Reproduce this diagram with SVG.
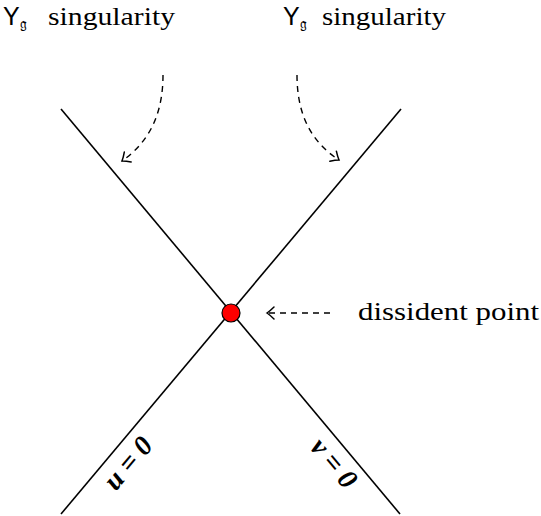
<svg xmlns="http://www.w3.org/2000/svg" width="541" height="516" viewBox="0 0 541 516">
<style>
.ln{stroke:#000;stroke-width:1.6;fill:none}
.dash{stroke:#000;stroke-width:1.4;fill:none;stroke-dasharray:6 5}
.sans{font-family:'Liberation Sans',Arial,sans-serif;fill:#000}
.serif{font-family:'Liberation Serif','Times New Roman',serif;font-size:26px;fill:#000}
.math{font-family:'Liberation Serif','Times New Roman',serif;font-size:28px;font-weight:bold;font-style:italic;fill:#000}
</style>
<defs>
<marker id="arr" markerUnits="userSpaceOnUse" markerWidth="20" markerHeight="20" viewBox="-12 -10 14 20" refX="0" refY="0" orient="auto">
<path d="M-7,-6 Q-3,-2 0,0 Q-3,2 -7,6" stroke="#000" stroke-width="1.5" fill="none" stroke-linecap="round"/>
</marker>
</defs>
<g id="lines">
<line id="line-u" class="ln" x1="61" y1="514" x2="401" y2="109"/>
<line id="line-v" class="ln" x1="61" y1="109" x2="400" y2="514"/>
</g>
<g id="connectors">
<path class="dash" d="M163,75 C163,110 152,140 122,161" marker-end="url(#arr)"/>
<path class="dash" d="M297,75 C297,110 308,140 339,160" marker-end="url(#arr)"/>
<path class="dash" d="M330,313 L267,313" marker-end="url(#arr)"/>
</g>
<g id="dissident-point">
<circle cx="231" cy="313" r="9" fill="#ff0000" stroke="#000" stroke-width="1.2"/>
</g>
<g id="label-left">
<text x="3" y="25" class="sans" font-size="25">Y<tspan font-size="15" dy="4" font-family="DejaVu Sans">𝔤</tspan></text>
<text x="48" y="25" class="serif" textLength="127" lengthAdjust="spacingAndGlyphs">singularity</text>
</g>
<g id="label-right">
<text x="283" y="25" class="sans" font-size="25">Y<tspan font-size="15" dy="4" font-family="DejaVu Sans">𝔤</tspan></text>
<text x="322" y="25" class="serif" textLength="124" lengthAdjust="spacingAndGlyphs">singularity</text>
</g>
<g id="label-dissident">
<text x="358" y="320" class="serif" textLength="181" lengthAdjust="spacingAndGlyphs">dissident point</text>
</g>
<g id="label-u">
<text class="math" text-anchor="middle" transform="translate(135,469) rotate(-50)">u = 0</text>
</g>
<g id="label-v">
<text class="math" text-anchor="middle" transform="translate(327,469) rotate(50)">v = 0</text>
</g>
</svg>
